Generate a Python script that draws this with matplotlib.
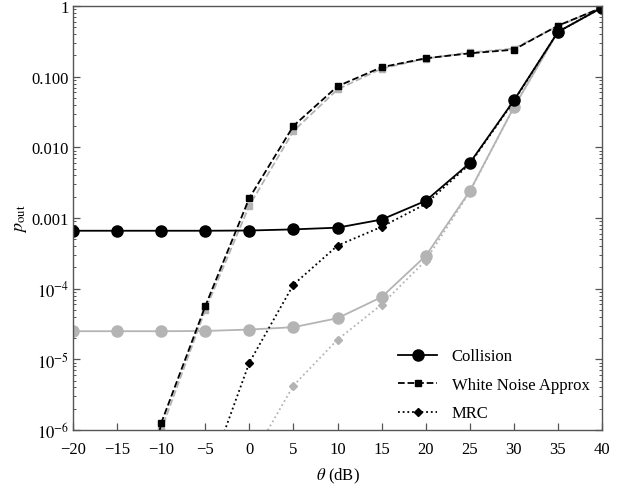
import matplotlib
matplotlib.use('Agg')
import matplotlib.pyplot as plt
from matplotlib.ticker import FixedLocator, FixedFormatter, LogLocator, NullFormatter
import numpy as np

plt.rcParams['font.family'] = ['Liberation Serif', 'DejaVu Serif']
plt.rcParams['mathtext.fontset'] = 'stix'

theta = [-20, -15, -10, -5, 0, 5, 10, 15, 20, 25, 30, 35, 40]

# black curves
collision = [6.6e-4, 6.6e-4, 6.6e-4, 6.6e-4, 6.65e-4, 6.9e-4, 7.3e-4, 9.5e-4, 1.75e-3, 6.0e-3, 0.046, 0.43, 0.95]
white_noise = [1e-9, 1e-9, 1.25e-6, 5.65e-5, 1.92e-3, 0.0201, 0.0731, 0.136, 0.182, 0.214, 0.241, 0.527, 0.95]
mrc = [1e-12, 1e-10, 1e-9, 1.7e-7, 9.0e-6, 1.14e-4, 4.07e-4, 7.5e-4, 1.58e-3, 5.8e-3, 0.045, 0.43, 0.95]

# gray curves
collision_g = [2.5e-5, 2.5e-5, 2.5e-5, 2.52e-5, 2.64e-5, 2.85e-5, 3.82e-5, 7.6e-5, 2.9e-4, 2.4e-3, 0.037, 0.43, 0.95]
white_noise_g = [1e-9, 1e-9, 1.0e-6, 5.0e-5, 1.5e-3, 0.017, 0.066, 0.13, 0.18, 0.22, 0.25, 0.52, 0.95]
mrc_g = [1e-12, 1e-11, 1e-10, 1e-8, 3.5e-7, 4.26e-6, 1.9e-5, 5.96e-5, 2.5e-4, 2.35e-3, 0.037, 0.43, 0.95]

ytick_vals = [1, 0.1, 0.01, 0.001, 1e-4, 1e-5, 1e-6]
ytick_labels = ['1', '0.100', '0.010', '0.001', r'$10^{-4}$', r'$10^{-5}$', r'$10^{-6}$']
xtick_vals = [-20, -15, -10, -5, 0, 5, 10, 15, 20, 25, 30, 35, 40]
xtick_labels = ['\u221220', '\u221215', '\u221210', '\u22125', '0', '5', '10', '15', '20', '25', '30', '35', '40']

gray = '#b4b4b4'
dots = (0, (1, 1.6))

fig = plt.figure(figsize=(6.3, 4.89), dpi=100)
ax = fig.add_axes([0.1159, 0.1186, 0.8397, 0.8671])

# gray first (behind)
ax.plot(theta, collision_g, '-', color=gray, lw=1.3, marker='o', ms=8)
ax.plot(theta, white_noise_g, '--', color=gray, lw=1.3, marker='s', ms=5)
ax.plot(theta, mrc_g, ls=dots, color=gray, lw=1.3, marker='D', ms=4.5)

ax.plot(theta, collision, '-', color='black', lw=1.3, marker='o', ms=8, label='Collision')
ax.plot(theta, white_noise, '--', color='black', lw=1.3, marker='s', ms=5, label='White Noise Approx')
ax.plot(theta, mrc, ls=dots, color='black', lw=1.3, marker='D', ms=4.5, label='MRC')

ax.set_yscale('log')
ax.set_xlim(-20, 40)
ax.set_ylim(1e-6, 1)

ax.yaxis.set_major_locator(FixedLocator(ytick_vals))
ax.yaxis.set_major_formatter(FixedFormatter(ytick_labels))
ax.yaxis.set_minor_locator(LogLocator(base=10, subs=np.arange(2, 10), numticks=20))
ax.yaxis.set_minor_formatter(NullFormatter())
ax.xaxis.set_major_locator(FixedLocator(xtick_vals))
ax.xaxis.set_major_formatter(FixedFormatter(xtick_labels))

for s in ax.spines.values():
    s.set_color('#555555')
    s.set_linewidth(1.0)

ax.tick_params(axis='both', which='both', direction='in', colors='#555555', labelcolor='black', labelsize=12)
ax.tick_params(axis='y', which='both', left=True, right=True, pad=3)
ax.tick_params(axis='x', which='both', top=False, bottom=True, pad=8)
ax.tick_params(which='major', length=5, width=0.9)
ax.tick_params(which='minor', length=2.5, width=0.7)

ax.set_xlabel(r'$\theta$ (dB)', fontsize=12, labelpad=6)
ax.set_ylabel(r'$p_{\mathrm{out}}$', fontsize=13, labelpad=2)

leg = ax.legend(loc='lower right', frameon=False, fontsize=12, handlelength=2.3,
                handletextpad=0.9, labelspacing=0.75, bbox_to_anchor=(1.005, -0.015))

fig.savefig('out.png', dpi=100)
